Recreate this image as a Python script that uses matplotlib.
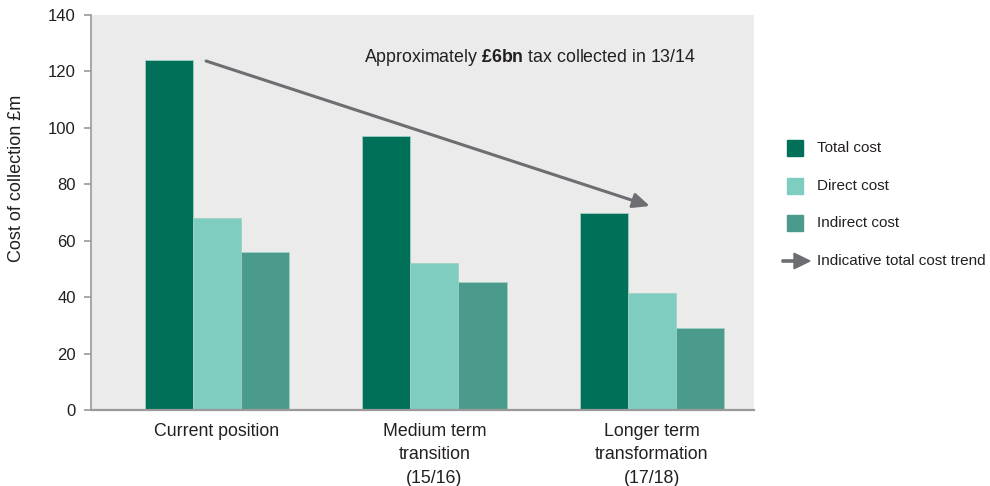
import numpy as np
import matplotlib
matplotlib.use("Agg")
from matplotlib import pyplot as plt
from matplotlib.patches import Rectangle, FancyArrow

plt.rcParams['font.family'] = ['Liberation Sans', 'DejaVu Sans']
plt.rcParams['mathtext.fontset'] = 'custom'
plt.rcParams['mathtext.rm'] = 'Liberation Sans'
plt.rcParams['mathtext.bf'] = 'Liberation Sans:bold'

categories = ['Current position', 'Medium term\ntransition\n(15/16)',
              'Longer term\ntransformation\n(17/18)']
total_cost = [124, 97, 70]
direct_cost = [68, 52, 41.5]
indirect_cost = [56, 45.5, 29]
series_names = ['Total cost', 'Direct cost', 'Indirect cost']
colors = ['#007058', '#7fcdc1', '#4a9b8b']
trend_start = (-0.05, 123.7)
trend_end = (1.99, 72.3)
note = 'Approximately $\\mathbf{£6bn}$ tax collected in 13/14'

fig = plt.figure(figsize=(9.9, 4.86), dpi=100)
ax = fig.add_axes([91 / 990, 1 - 410 / 486, 663 / 990, 395 / 486])
ax.set_facecolor('#ebebeb')

x = np.arange(len(categories))
w = 0.221
for i, (vals, c) in enumerate(zip([total_cost, direct_cost, indirect_cost], colors)):
    ax.bar(x + (i - 1) * w, vals, width=w, color=c, edgecolor='#9fd0c4',
           linewidth=0.6, zorder=2)

ax.set_xlim(-0.579, 2.469)
ax.set_ylim(0, 140)
ax.set_yticks(range(0, 141, 20))
ax.set_xticks(x)
ax.set_xticklabels(categories, fontsize=12.8, color='#231f20', linespacing=1.5)
ax.tick_params(axis='x', length=0, pad=9)
ax.tick_params(axis='y', length=5, width=1.2, color='#9a9a9a', labelsize=12,
               labelcolor='#231f20', pad=6)
for s in ['top', 'right']:
    ax.spines[s].set_visible(False)
ax.spines['left'].set_color('#9a9a9a')
ax.spines['left'].set_linewidth(1.2)
ax.spines['bottom'].set_color('#9a9a9a')
ax.spines['bottom'].set_linewidth(1.6)
ax.set_ylabel('Cost of collection £m', fontsize=13, color='#231f20')
ax.yaxis.set_label_coords(-0.099, 0.587)

ax.annotate('', xy=trend_end, xytext=trend_start,
            arrowprops=dict(arrowstyle='-|>,head_length=1.0,head_width=0.45',
                            color='#6d6e71', lw=2.2, shrinkA=0, shrinkB=0),
            zorder=3)
ax.text(1.44, 125, note, ha='center', va='center', fontsize=12.8, color='#231f20')

# legend drawn by hand in figure pixels
def fx(px):
    return px / 990

def fy(py):
    return 1 - py / 486

for i, (name, c) in enumerate(zip(series_names, colors)):
    cy = 148 + i * 37.7
    fig.add_artist(Rectangle((fx(787), fy(cy + 8)), 16 / 990, 16 / 486,
                             transform=fig.transFigure, color=c))
    fig.text(fx(817), fy(cy), name, fontsize=11, va='center', color='#231f20')
cy = 261
fig.add_artist(FancyArrow(fx(782), fy(cy), 12 / 990, 0, width=0.0045,
                          head_width=0.032, head_length=16 / 990,
                          length_includes_head=False, color='#6d6e71',
                          transform=fig.transFigure))
fig.text(fx(817), fy(cy), 'Indicative total cost trend', fontsize=11,
         va='center', color='#231f20')

fig.savefig('out.png', dpi=100)
